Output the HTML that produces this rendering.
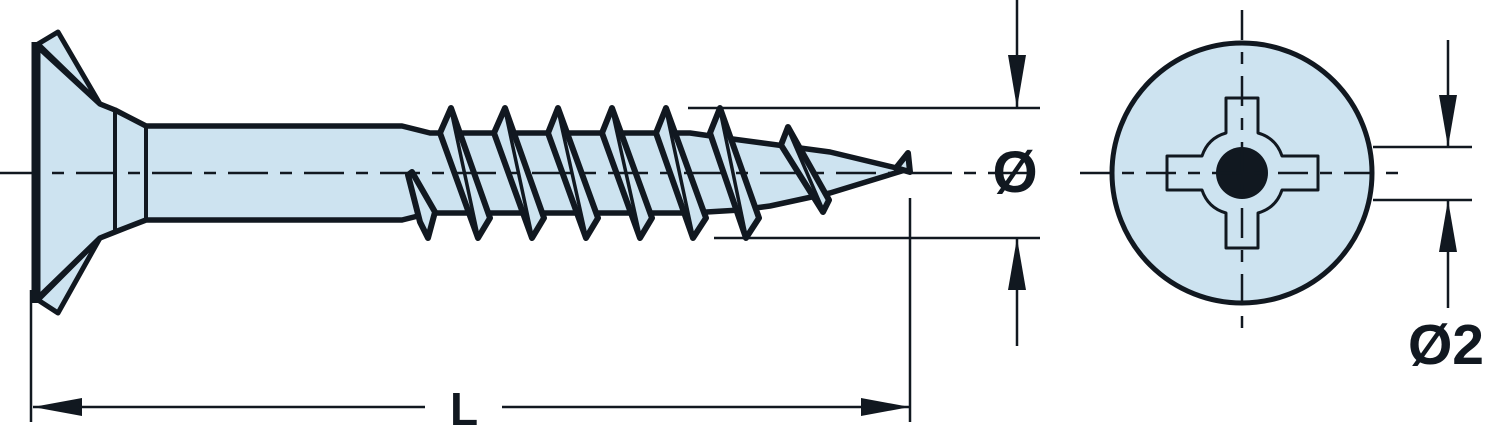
<!DOCTYPE html>
<html><head><style>html,body{margin:0;padding:0;background:#fff}svg{display:block}</style></head>
<body>
<svg width="1488" height="436" viewBox="0 0 1488 436" xmlns="http://www.w3.org/2000/svg">
<g stroke="#111820" stroke-linejoin="round" fill="#cde3f0">
  <polygon points="38,44 58,32 100,104" stroke-width="5"/>
  <polygon points="38,300 58,313 100,238" stroke-width="5"/>
  <path d="M36,45 L100,104 L115,110 L146,126 L402,126 L430,133 L690,133 L725,138 L770,144 L830,152 L905,170 L830,193 L770,206 L740,210 L690,213 L430,213 L410,218 L402,220 L146,220 L115,232 L100,238 L36,300 Z" stroke-width="5.5"/>
  <line x1="115" y1="110" x2="115" y2="232" stroke-width="4"/>
  <line x1="146" y1="126" x2="146" y2="220" stroke-width="4"/>
  <line x1="36" y1="42" x2="36" y2="303" stroke-width="9"/>
  <g stroke-width="6">
    <polygon points="408,175 412,172 435,212 428,238 420,222"/>
    <polygon points="440,133 451,108 490,218 478,238"/>
    <polygon points="494,133 505,108 544,218 532,238"/>
    <polygon points="548,133 558,108 598,218 586,238"/>
    <polygon points="602,133 612,108 652,218 640,238"/>
    <polygon points="656,133 666,108 706,218 693,238"/>
    <polygon points="710,133 720,108 759,218 746,238"/>
    <polygon points="781,145 788,127 829,200 823,212"/>
    <polygon points="896,168 908,153 910,172"/>
  </g>
  <g fill="none" stroke-width="3.5">
    <line x1="451" y1="110" x2="478" y2="236"/>
    <line x1="505" y1="110" x2="532" y2="236"/>
    <line x1="558" y1="110" x2="586" y2="236"/>
    <line x1="612" y1="110" x2="640" y2="236"/>
    <line x1="666" y1="110" x2="693" y2="236"/>
    <line x1="720" y1="110" x2="746" y2="236"/>
    <line x1="788" y1="129" x2="823" y2="210"/>
  </g>
  <circle cx="1242" cy="173" r="130" stroke-width="5"/>
  <path d="M1226,98 L1258,98 L1258,133 Q1276,138 1282,156 L1318,156 L1318,190 L1282,190 Q1276,208 1258,213 L1258,248 L1226,248 L1226,213 Q1208,208 1202,190 L1167,190 L1167,156 L1202,156 Q1208,138 1226,133 Z" stroke-width="3"/>
  <circle cx="1242" cy="173" r="26" fill="#111820" stroke="none"/>
</g>
<g stroke="#111820" stroke-width="2.5" fill="none">
  <line x1="0" y1="173" x2="1040" y2="173" stroke-dasharray="40,12,12,12"/>
  <line x1="1080" y1="173" x2="1405" y2="173" stroke-dasharray="30,12,12,12"/>
  <line x1="1242" y1="10" x2="1242" y2="336" stroke-dasharray="30,12,12,12"/>
</g>
<g stroke="#111820" stroke-width="2.5" fill="none">
  <line x1="688" y1="108" x2="1040" y2="108"/>
  <line x1="714" y1="238" x2="1040" y2="238"/>
  <line x1="1017" y1="0" x2="1017" y2="108"/>
  <line x1="1017" y1="238" x2="1017" y2="346"/>
  <line x1="1373" y1="147" x2="1472" y2="147"/>
  <line x1="1373" y1="200" x2="1472" y2="200"/>
  <line x1="1448" y1="40" x2="1448" y2="147"/>
  <line x1="1448" y1="200" x2="1448" y2="308"/>
  <line x1="31" y1="290" x2="31" y2="422"/>
  <line x1="910" y1="198" x2="910" y2="422"/>
  <line x1="33" y1="407" x2="425" y2="407"/>
  <line x1="502" y1="407" x2="910" y2="407"/>
</g>
<g fill="#111820">
  <polygon points="1008,55 1026,55 1017,108"/>
  <polygon points="1008,290 1026,290 1017,238"/>
  <polygon points="1439,95 1457,95 1448,147"/>
  <polygon points="1439,252 1457,252 1448,200"/>
  <polygon points="33,407 82,398 82,416"/>
  <polygon points="910,407 861,398 861,416"/>
</g>
<g font-family="Liberation Sans, sans-serif" font-weight="bold" fill="#111820">
  <text x="1015" y="192" font-size="58" text-anchor="middle">Ø</text>
  <text x="464" y="425" font-size="46" text-anchor="middle">L</text>
  <text x="1446" y="364" font-size="57" text-anchor="middle">Ø2</text>
</g>
</svg>
</body></html>
